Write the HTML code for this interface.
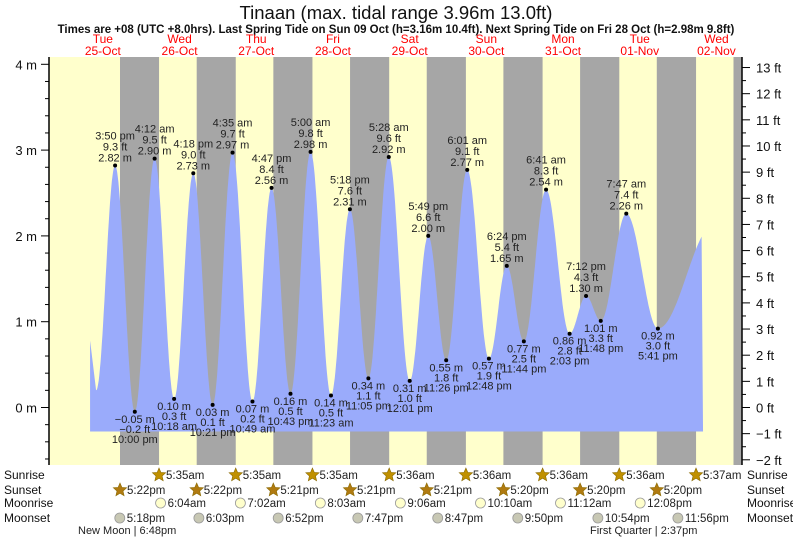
<!DOCTYPE html>
<html><head><meta charset="utf-8"><style>
body{margin:0;background:#fff;}
svg{display:block;font-family:"Liberation Sans",sans-serif;}
</style></head><body>
<svg id="chart" width="793" height="539" viewBox="0 0 793 539" xmlns="http://www.w3.org/2000/svg">
<text x="396" y="19" font-size="18.5" text-anchor="middle" fill="#111">Tinaan (max. tidal range 3.96m 13.0ft)</text>
<text x="396" y="33" font-size="11.5" font-weight="bold" text-anchor="middle" fill="#111">Times are +08 (UTC +8.0hrs). Last Spring Tide on Sun 09 Oct (h=3.16m 10.4ft). Next Spring Tide on Fri 28 Oct (h=2.98m 9.8ft)</text>
<g id="bands"></g><g id="tide"></g><g id="axes"></g><g id="labels"></g><g id="astro"></g>
</svg>
<script>
// ---- data ----
const dayNames = ["Tue","Wed","Thu","Fri","Sat","Sun","Mon","Tue","Wed"];
const dayDates = ["25-Oct","26-Oct","27-Oct","28-Oct","29-Oct","30-Oct","31-Oct","01-Nov","02-Nov"];
// tide extremes: day index (0 = 25 Oct), clock time, height m
const tideDay   = [0,0,1,1,1,1,2,2,2,2,3,3,3,3,4,4,4,4,5,5,5,5,6,6,6,6,7,7];
const tideTime  = ["3:50 pm","10:00 pm","4:12 am","10:18 am","4:18 pm","10:21 pm","4:35 am","10:49 am","4:47 pm","10:43 pm","5:00 am","11:23 am","5:18 pm","11:05 pm","5:28 am","12:01 pm","5:49 pm","11:26 pm","6:01 am","12:48 pm","6:24 pm","11:44 pm","6:41 am","2:03 pm","7:12 pm","11:48 pm","7:47 am","5:41 pm"];
const tideM     = [2.82,-0.05,2.90,0.10,2.73,0.03,2.97,0.07,2.56,0.16,2.98,0.14,2.31,0.34,2.92,0.31,2.00,0.55,2.77,0.57,1.65,0.77,2.54,0.86,1.30,1.01,2.26,0.92];
const tideFt    = ["9.3","−0.2","9.5","0.3","9.0","0.1","9.7","0.2","8.4","0.5","9.8","0.5","7.6","1.1","9.6","1.0","6.6","1.8","9.1","1.9","5.4","2.5","8.3","2.8","4.3","3.3","7.4","3.0"];
const tideMLabel= ["2.82","−0.05","2.90","0.10","2.73","0.03","2.97","0.07","2.56","0.16","2.98","0.14","2.31","0.34","2.92","0.31","2.00","0.55","2.77","0.57","1.65","0.77","2.54","0.86","1.30","1.01","2.26","0.92"];
// curve edges (unlabelled): start, preceding low, trailing rise
const startHour = 8.0, startM = 0.78;
const preLowHour = 9.9, preLowM = 0.20;
const endHour = 199.8, nextHighHour = 203.5, nextHighM = 2.15;
const sunriseDay=[1,2,3,4,5,6,7,8]; const sunriseT=["5:35am","5:35am","5:35am","5:36am","5:36am","5:36am","5:36am","5:37am"];
const sunsetDay=[0,1,2,3,4,5,6,7]; const sunsetT=["5:22pm","5:22pm","5:21pm","5:21pm","5:21pm","5:20pm","5:20pm","5:20pm"];
const lastNightDay=8, lastNightSunset="5:20pm";
const moonriseDay=[1,2,3,4,5,6,7]; const moonriseT=["6:04am","7:02am","8:03am","9:06am","10:10am","11:12am","12:08pm"];
const moonsetDay=[0,1,2,3,4,5,6,7]; const moonsetT=["5:18pm","6:03pm","6:52pm","7:47pm","8:47pm","9:50pm","10:54pm","11:56pm"];
const mTicks=[0,1,2,3,4]; const ftTicks=[-2,-1,0,1,2,3,4,5,6,7,8,9,10,11,12,13];

// ---- scales ----
const X0=64.5, PXH=76.7/24, PL=49, PR=742, PT=57, PB=465;
const xH=h=>X0+h*PXH;
const yM=m=>407.5-85.8*m;
function hrs(t){const m=t.match(/(\d+):(\d+)\s*(am|pm)/);let h=+m[1]%12;if(m[3]==='pm')h+=12;return h+ +m[2]/60;}
const NS="http://www.w3.org/2000/svg";
function el(tag,attrs,parent,txt){const e=document.createElementNS(NS,tag);for(const k in attrs)e.setAttribute(k,attrs[k]);if(txt!=null)e.textContent=txt;parent.appendChild(e);return e;}
const bands=document.getElementById('bands'),tide=document.getElementById('tide'),axes=document.getElementById('axes'),labels=document.getElementById('labels'),astro=document.getElementById('astro');

// day/night bands
let r=el('rect',{x:PL,y:PT,width:PR-PL,height:PB-PT,fill:'#ffffcc'},bands);


for(let i=0;i<=sunsetDay.length;i++){
  const sd=i<sunsetDay.length?sunsetDay[i]:lastNightDay;
  const st=i<sunsetDay.length?sunsetT[i]:lastNightSunset;
  const s=xH(sd*24+hrs(st));
  const j=sunriseDay.indexOf(sd+1);
  const e=j>=0?xH(sunriseDay[j]*24+hrs(sunriseT[j])):PR;
  const b=el('rect',{x:s,y:PT,width:Math.min(e,PR)-s,height:PB-PT,fill:'#a6a6a6'},bands);
  
  
}
// day labels
for(let i=0;i<dayNames.length;i++){
  const x=xH(i*24+12);
  const t=el('text',{x:x,y:43,'font-size':12,'text-anchor':'middle',fill:'#ff0000'},labels,dayNames[i]);
  
  
  const t2=el('text',{x:x,y:55,'font-size':12,'text-anchor':'middle',fill:'#ff0000'},labels,dayDates[i]);
  
  
}
// tide curve
const pts=[[startHour,startM],[preLowHour,preLowM]];
for(let i=0;i<tideM.length;i++)pts.push([tideDay[i]*24+hrs(tideTime[i]),tideM[i]]);
pts.push([nextHighHour,nextHighM]);
let d=`M${xH(startHour)},${yM(-0.28)} L${xH(startHour)},${yM(startM)}`;
for(let k=0;k<pts.length-1;k++){
  const [h0,m0]=pts[k],[h1,m1]=pts[k+1];
  for(let s=1;s<=30;s++){
    const h=h0+(h1-h0)*s/30; if(h>endHour)break;
    const v=k===0?m0+(m1-m0)*s/30:m0+(m1-m0)*(1-Math.cos(Math.PI*s/30))/2;
    d+=` L${xH(h).toFixed(1)},${yM(v).toFixed(1)}`;
  }
}
d+=` L${xH(endHour)},${yM(-0.28)} Z`;
const area=el('path',{d:d,fill:'#9aabfb'},tide);


// extremes labels
for(let i=0;i<tideM.length;i++){
  const x=xH(tideDay[i]*24+hrs(tideTime[i])), y=yM(tideM[i]);
  const high=(i%2===0);
  const dot=el('circle',{cx:x,cy:y,r:2,fill:'#000'},labels);
  
  
  const lines=high?[tideTime[i],tideFt[i]+' ft',tideMLabel[i]+' m']:[tideMLabel[i]+' m',tideFt[i]+' ft',tideTime[i]];
  const base=high?[y-26,y-15,y-4]:[y+11,y+21,y+31];
  for(let k=0;k<3;k++){
    const t=el('text',{x:x,y:base[k],'font-size':11,'text-anchor':'middle',fill:'#222'},labels,lines[k]);
    
    
  }
}
// axes
let ax=el('line',{x1:PL,y1:PT,x2:PL,y2:PB,stroke:'#000','stroke-width':1.5},axes);


for(let m=-0.6;m<=4.01;m+=0.2){const y=yM(m);const major=Math.abs(m-Math.round(m))<0.01;
  el('line',{x1:major?PL-8:PL-4,y1:y,x2:PL,y2:y,stroke:'#000'},axes);}
for(const m of mTicks){const t=el('text',{x:37,y:yM(m)+5,'font-size':13,'text-anchor':'end',fill:'#111'},axes,m+' m');
  
  }
let ax2=el('line',{x1:PR,y1:PT,x2:PR,y2:PB,stroke:'#000','stroke-width':1.5},axes);


for(let f=-2;f<=13.01;f+=0.5){const y=yM(f*0.3048);const major=Math.abs(f-Math.round(f))<0.01;
  el('line',{x1:PR,y1:y,x2:major?PR+8:PR+4,y2:y,stroke:'#000'},axes);}
for(const f of ftTicks){const t=el('text',{x:756,y:yM(f*0.3048)+5,'font-size':13,fill:'#111'},axes,(f<0?'−'+(-f):f)+' ft');
  
  }
// astro rows
const rows=[['Sunrise',479],['Sunset',494],['Moonrise',507],['Moonset',522]];
for(const [n,y] of rows){
  let t=el('text',{x:4,y:y,'font-size':12,fill:'#111'},astro,n);
  
  
  t=el('text',{x:747,y:y,'font-size':12,fill:'#111'},astro,n);
  
  
}
function star(cx,cy,fill){let p='';for(let k=0;k<10;k++){const a=-Math.PI/2+k*Math.PI/5,rr=k%2?3.2:7;p+=(cx+rr*Math.cos(a)).toFixed(1)+','+(cy+rr*Math.sin(a)).toFixed(1)+' ';}return el('polygon',{points:p,fill:fill,stroke:'#8a6a00','stroke-width':0.6},astro);}
function row(days,times,y,kind){
  for(let i=0;i<days.length;i++){
    const x=xH(days[i]*24+hrs(times[i]));
    let ic;
    if(kind==='sunrise')ic=star(x,y-4,'#c09000');
    else if(kind==='sunset')ic=star(x,y-4,'#b07a10');
    else ic=el('circle',{cx:x,cy:y-4,r:5,fill:kind==='moonrise'?'#ffffcc':'#c8c8b4',stroke:'#999','stroke-width':0.8},astro);
    
    
    const t=el('text',{x:x+7,y:y,'font-size':11.5,fill:'#222'},astro,times[i]);
    
    
  }
}
row(sunriseDay,sunriseT,479,'sunrise');
row(sunsetDay,sunsetT,494,'sunset');
row(moonriseDay,moonriseT,507,'moonrise');
row(moonsetDay,moonsetT,522,'moonset');
let mp=el('text',{x:78,y:534,'font-size':11,fill:'#222'},astro,'New Moon | 6:48pm');


mp=el('text',{x:590,y:534,'font-size':11,fill:'#222'},astro,'First Quarter | 2:37pm');


</script>
</body></html>
